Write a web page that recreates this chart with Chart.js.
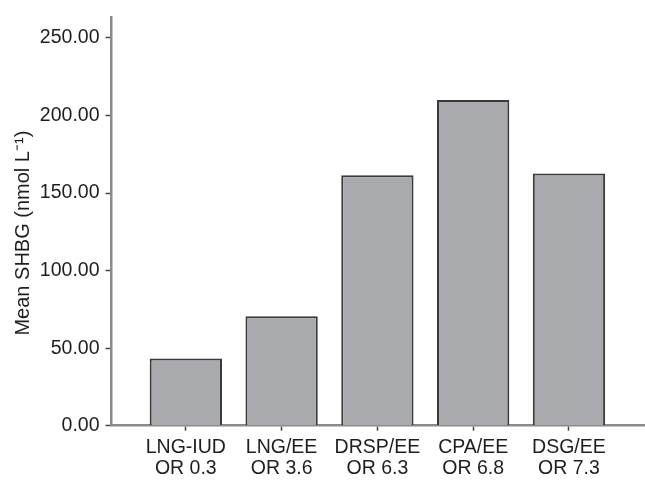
<!DOCTYPE html>
<html>
<head>
<meta charset="utf-8">
<script src="https://cdn.jsdelivr.net/npm/chart.js@4/dist/chart.umd.min.js"></script>
<style>
  html, body { margin: 0; padding: 0; background: #fff; }
  canvas { display: block; }
</style>
</head>
<body>
<canvas id="chart" width="645" height="481"></canvas>
<script>
// Mean SHBG by contraceptive group, with odds ratios
const groups = ['LNG-IUD', 'LNG/EE', 'DRSP/EE', 'CPA/EE', 'DSG/EE'];
const oddsRatios = ['OR 0.3', 'OR 3.6', 'OR 6.3', 'OR 6.8', 'OR 7.3'];
const meanShbg = [43.3, 70.5, 161.4, 210.0, 162.5];
const yTicks = [0, 50, 100, 150, 200, 250];
const yTitle = 'Mean SHBG (nmol L\u207B\u00B9)';

const FAMILY = '"Liberation Sans", Arial, Helvetica, sans-serif';
const FONT = { family: FAMILY, size: 19.5 };
const TEXT = '#1e1e1e';
const AXIS_GREY = '#8a8a8a';

const points = meanShbg.map((v, i) => ({ x: i, y: v }));

// Vertical axis title, drawn beside the y axis and slightly below the plot's middle
const yTitlePlugin = {
  id: 'yTitle',
  afterDraw(chart) {
    const { ctx, chartArea } = chart;
    ctx.save();
    ctx.translate(28.5, chartArea.top + (chartArea.bottom - chartArea.top) * 0.528);
    ctx.rotate(-Math.PI / 2);
    ctx.font = '20px ' + FAMILY;
    ctx.fillStyle = TEXT;
    ctx.textAlign = 'center';
    ctx.textBaseline = 'alphabetic';
    ctx.fillText(yTitle, 0, 0);
    ctx.restore();
  }
};

new Chart(document.getElementById('chart'), {
  type: 'bar',
  data: {
    datasets: [{
      data: points,
      backgroundColor: '#a9aaae',
      borderColor: '#3a3a3a',
      borderWidth: 2,
      barPercentage: 0.755,
      categoryPercentage: 1
    }]
  },
  plugins: [yTitlePlugin],
  options: {
    responsive: false,
    animation: false,
    devicePixelRatio: 1,
    layout: { padding: { top: 10, right: 0, left: 0, bottom: 0 } },
    plugins: { legend: { display: false }, tooltip: { enabled: false } },
    scales: {
      x: {
        type: 'linear',
        offset: false,
        min: -0.776,
        max: 4.794,
        afterBuildTicks: (scale) => { scale.ticks = groups.map((_, i) => ({ value: i })); },
        afterFit: (scale) => { scale.height = 55.3; },
        grid: { offset: false, drawOnChartArea: false, drawTicks: true, tickLength: 5, tickColor: '#444', tickWidth: 1.5 },
        border: { color: AXIS_GREY, width: 2.5 },
        ticks: {
          autoSkip: false,
          maxRotation: 0,
          padding: 6,
          color: TEXT,
          font: { ...FONT, lineHeight: 1.08 },
          callback: (value) => [groups[value], oddsRatios[value]]
        }
      },
      y: {
        min: 0,
        max: 263,
        afterBuildTicks: (scale) => { scale.ticks = yTicks.map(v => ({ value: v })); },
        afterFit: (scale) => { scale.width = 111.5; },
        grid: { drawOnChartArea: false, drawTicks: true, tickLength: 6, tickColor: '#444', tickWidth: 1.5 },
        border: { color: AXIS_GREY, width: 2.5 },
        ticks: {
          padding: 6,
          color: TEXT,
          font: FONT,
          callback: (value) => value.toFixed(2)
        }
      }
    }
  }
});
</script>
</body>
</html>
